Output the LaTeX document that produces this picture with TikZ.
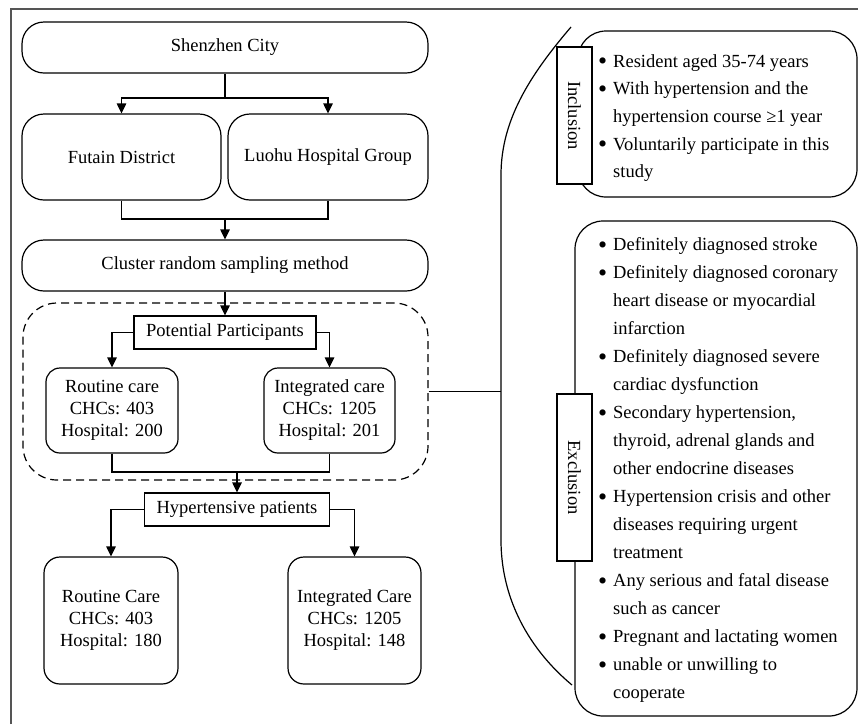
\documentclass[tikz,border=0pt]{standalone}
\usepackage{fontspec}
\setmainfont{Liberation Serif}
\usetikzlibrary{arrows.meta}
\definecolor{framegray}{HTML}{555555}
\tikzset{
  every node/.style={font=\fontsize{18.5}{22}\selectfont, inner sep=0pt},
  lw/.style={line width=1.2pt},
  arr/.style={lw, -{Triangle[length=10pt,width=9.5pt]}},
  rbox/.style={draw, lw, align=center, rounded corners=#1},
  rbox/.default=20pt,
  sqbox/.style={draw, lw, fill=white, align=center},
  listtext/.style={align=left, anchor=north west},
}
\newcommand\bitem[1]{\makebox[15pt][l]{\raisebox{-2.6pt}{\scalebox{1.4}{\textbullet}}}#1}
\newcommand\bcont[1]{\hspace*{15pt}#1}
\begin{document}
\begin{tikzpicture}[x=1pt,y=-1pt]
\useasboundingbox (0,0) rectangle (858,724);
% frame
\draw[framegray, line width=1.2pt] (11,724) |- (858,9);

% left flow
\node[rbox=22pt, minimum width=406pt, minimum height=51pt] (city) at (225,47.5) {Shenzhen City};
\node[rbox=22pt, minimum width=199pt, minimum height=86pt] (futian) at (121.5,157) {Futain District};
\node[rbox=22pt, minimum width=200pt, minimum height=86pt] (luohu) at (328,157) {Luohu Hospital Group};
\node[rbox=22pt, minimum width=406pt, minimum height=51pt] (cluster) at (225,265.5) {Cluster random sampling method};
\node[draw, lw, dash pattern=on 8pt off 5pt, rounded corners=34pt, minimum width=405pt, minimum height=177pt] (dashbox) at (225.5,391.5) {};
\node[sqbox, minimum width=182pt, minimum height=33pt] (pp) at (225,332.5) {Potential Participants};
\node[rbox=14pt, minimum width=132pt, minimum height=85pt] (rc1) at (112,410.5) {Routine care\\CHCs: 403\\Hospital: 200};
\node[rbox=14pt, minimum width=131pt, minimum height=85pt] (ic1) at (329.5,410.5) {Integrated care\\CHCs: 1205\\Hospital: 201};
\node[sqbox, minimum width=185pt, minimum height=33pt] (hp) at (237,509.5) {Hypertensive patients};
\node[rbox=16pt, minimum width=134pt, minimum height=127pt] (rc2) at (111,620.5) {Routine Care\\CHCs: 403\\Hospital: 180};
\node[rbox=16pt, minimum width=133pt, minimum height=127pt] (ic2) at (354.5,620.5) {Integrated Care\\CHCs: 1205\\Hospital: 148};

\coordinate (j1) at (225,98);
\coordinate (j2) at (225,219);
\coordinate (j3) at (237,472);
\draw[lw] (city.south) -- (j1);
\draw[arr] (j1) -| (futian.north);
\draw[arr] (j1) -| (luohu.north);
\draw[lw] (futian.south) |- (j2) -| (luohu.south);
\draw[arr] (j2) -- (cluster.north);
\draw[arr] (cluster.south) -- (pp.north);
\draw[arr] (pp.west) -| (rc1.north);
\draw[arr] (pp.east) -| (ic1.north);
\draw[lw] (rc1.south) |- (j3) -| (ic1.south);
\draw[arr] (j3) -- (hp.north);
\draw[arr] (hp.west) -| (rc2.north);
\draw[arr] (hp.east) -| (ic2.north);

% brace
\draw[lw] (571,27) .. controls (530,75) and (501,120) .. (501,175)
  -- (501,540) .. controls (501,600) and (530,650) .. (572,685);
\coordinate (bx) at (501,393);
\draw[lw] (dashbox.east) -- (dashbox.east -| bx);

% inclusion
\draw[lw, rounded corners=28pt] (578,31) rectangle (857,197);
\node[sqbox, rotate=-90, minimum width=137pt, minimum height=35pt] (incl) at (574.5,115.5) {Inclusion};
\node[listtext, font=\fontsize{18.5}{27.6}\selectfont] (incltext) at (598,47.7) {\strut\bitem{Resident aged 35-74 years}\\
\bitem{With hypertension and the}\\
\bcont{hypertension course ≥1 year}\\
\bitem{Voluntarily participate in this}\\
\bcont{study}};

% exclusion
\draw[lw, rounded corners=28pt] (575,221) rectangle (857,716);
\node[sqbox, rotate=-90, minimum width=167pt, minimum height=35pt] (excl) at (574.5,477.5) {Exclusion};
\node[listtext, font=\fontsize{18.5}{28}\selectfont] (excltext) at (598,231) {\strut\bitem{Definitely diagnosed stroke}\\
\bitem{Definitely diagnosed coronary}\\
\bcont{heart disease or myocardial}\\
\bcont{infarction}\\
\bitem{Definitely diagnosed severe}\\
\bcont{cardiac dysfunction}\\
\bitem{Secondary hypertension,}\\
\bcont{thyroid, adrenal glands and}\\
\bcont{other endocrine diseases}\\
\bitem{Hypertension crisis and other}\\
\bcont{diseases requiring urgent}\\
\bcont{treatment}\\
\bitem{Any serious and fatal disease}\\
\bcont{such as cancer}\\
\bitem{Pregnant and lactating women}\\
\bitem{unable or unwilling to}\\
\bcont{cooperate}};
\end{tikzpicture}
\end{document}
